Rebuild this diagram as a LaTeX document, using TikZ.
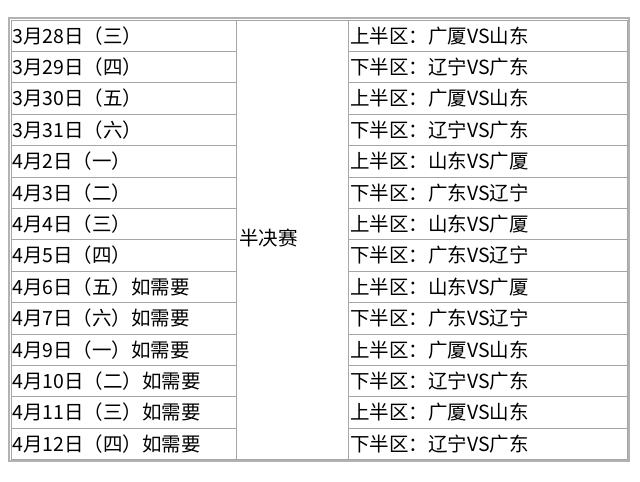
\documentclass[tikz,border=0pt]{standalone}
\usepackage{fontspec}
\setmainfont{Noto Sans CJK SC}
\begin{document}
\begin{tikzpicture}[x=1pt,y=-1pt,
  grid/.style={draw=gray!70,line width=1pt},
  cell/.style={anchor=west,inner sep=0pt,font=\fontsize{19.5}{22}\selectfont}]
\useasboundingbox[fill=white] (0,0) rectangle (640,482);
\draw[draw=gray!60,line width=1.2pt] (9,18) rectangle (629,461);
\def\rh{31.4}
\foreach \i in {1,...,13}{
  \draw[grid] (11,20+\i*\rh) -- (236,20+\i*\rh);
  \draw[grid] (348,20+\i*\rh) -- (627,20+\i*\rh);
}
\draw[grid] (11,20) rectangle (627,459.6);
\draw[grid] (236,20) -- (236,459.6);
\draw[grid] (348,20) -- (348,459.6);
\foreach \d [count=\i] in {3月28日（三）,3月29日（四）,3月30日（五）,3月31日（六）,4月2日（一）,4月3日（二）,4月4日（三）,4月5日（四）,4月6日（五）如需要,4月7日（六）如需要,4月9日（一）如需要,4月10日（二）如需要,4月11日（三）如需要,4月12日（四）如需要}
  \node[cell] (d\i) at (12,20+\i*\rh-\rh/2) {\d};
\foreach \m [count=\i] in {上半区：广厦VS山东,下半区：辽宁VS广东,上半区：广厦VS山东,下半区：辽宁VS广东,上半区：山东VS广厦,下半区：广东VS辽宁,上半区：山东VS广厦,下半区：广东VS辽宁,上半区：山东VS广厦,下半区：广东VS辽宁,上半区：广厦VS山东,下半区：辽宁VS广东,上半区：广厦VS山东,下半区：辽宁VS广东}
  \node[cell] (m\i) at (350,20+\i*\rh-\rh/2) {\m};
\node[cell] (stage) at (239,238) {半决赛};
\end{tikzpicture}
\end{document}
